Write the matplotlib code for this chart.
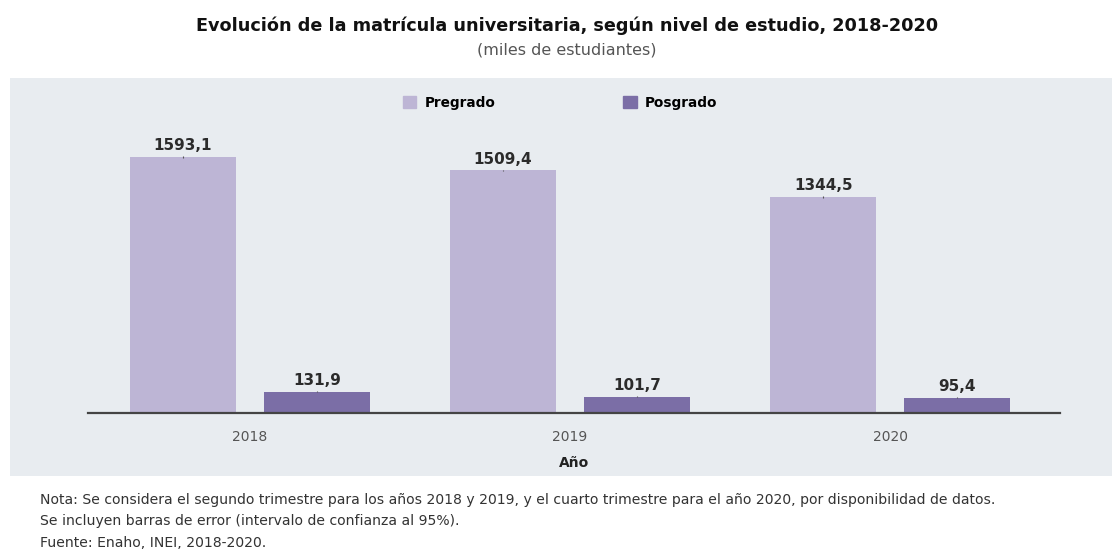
import numpy as np
import matplotlib.pyplot as plt
from matplotlib.patches import Rectangle, Patch

W, H = 1112, 556

years = ["2018", "2019", "2020"]
pregrado = [1593.1, 1509.4, 1344.5]
posgrado = [131.9, 101.7, 95.4]
# tiny error bars (95% CI), barely visible in the source
pregrado_err = [6, 6, 6]
posgrado_err = [3, 3, 3]
labels_pre = ["1593,1", "1509,4", "1344,5"]
labels_pos = ["131,9", "101,7", "95,4"]

C_PRE = "#bdb5d5"
C_POS = "#7b6ea6"
PANEL = "#e8ecf0"


def fx(px):
    return px / W


def fy(py):
    return 1 - py / H


fig = plt.figure(figsize=(W / 100, H / 100), dpi=100)
fig.patch.set_facecolor("white")

# grey panel behind the chart
fig.patches.append(Rectangle((fx(10), fy(476)), fx(1112) - fx(10), fy(78) - fy(476),
                             transform=fig.transFigure, facecolor=PANEL,
                             edgecolor="none", zorder=-5))

# axes: zero line at y=413, spans x 88..1060
ax = fig.add_axes([fx(88), fy(413), fx(1060) - fx(88), fy(140) - fy(413)])
ax.set_facecolor("none")
ax.set_zorder(2)

x = np.arange(len(years))
bw = 0.331
off = 0.209
ax.bar(x - off, pregrado, bw, color=C_PRE, yerr=pregrado_err,
       error_kw=dict(ecolor="#555555", elinewidth=0.8, capsize=0), zorder=2)
ax.bar(x + off, posgrado, bw, color=C_POS, yerr=posgrado_err,
       error_kw=dict(ecolor="#555555", elinewidth=0.8, capsize=0), zorder=2)

for xi, v, lab in zip(x, pregrado, labels_pre):
    ax.text(xi - off, v + 22, lab, ha="center", va="bottom", fontsize=11,
            fontweight="bold", color="#2b2b2b")
for xi, v, lab in zip(x, posgrado, labels_pos):
    ax.text(xi + off, v + 22, lab, ha="center", va="bottom", fontsize=11,
            fontweight="bold", color="#2b2b2b")

ax.set_xlim(-0.506, 2.531)
ax.set_ylim(0, 1699)
ax.set_xticks(x)
ax.set_xticklabels(years, fontsize=10, color="#555555")
ax.tick_params(axis="x", length=0, pad=12)
ax.set_yticks([])
for s in ["top", "right", "left"]:
    ax.spines[s].set_visible(False)
ax.spines["bottom"].set_color("#444444")
ax.spines["bottom"].set_linewidth(1.6)
ax.set_xlabel("Año", fontsize=10, fontweight="bold", color="#222222", labelpad=9)

# legend
handles = [Patch(color=C_PRE, label="Pregrado"), Patch(color=C_POS, label="Posgrado")]
fig.legend(handles=handles, loc="center", bbox_to_anchor=(fx(560), fy(103)),
           ncol=2, frameon=False, handlelength=1.0, handleheight=1.0,
           columnspacing=9.4, handletextpad=0.6,
           prop=dict(weight="bold", size=9.8))

# titles
fig.text(fx(567), fy(26), "Evolución de la matrícula universitaria, según nivel de estudio, 2018-2020",
         ha="center", va="center", fontsize=12.7, fontweight="bold", color="#111111")
fig.text(fx(567), fy(50), "(miles de estudiantes)", ha="center", va="center",
         fontsize=11.5, color="#555555")

# notes
notes = [
    "Nota: Se considera el segundo trimestre para los años 2018 y 2019, y el cuarto trimestre para el año 2020, por disponibilidad de datos.",
    "Se incluyen barras de error (intervalo de confianza al 95%).",
    "Fuente: Enaho, INEI, 2018-2020.",
]
for i, t in enumerate(notes):
    fig.text(fx(40), fy(500 + 21.5 * i), t, ha="left", va="center", fontsize=10.1,
             color="#333333")

fig.savefig("out.png", dpi=100)
